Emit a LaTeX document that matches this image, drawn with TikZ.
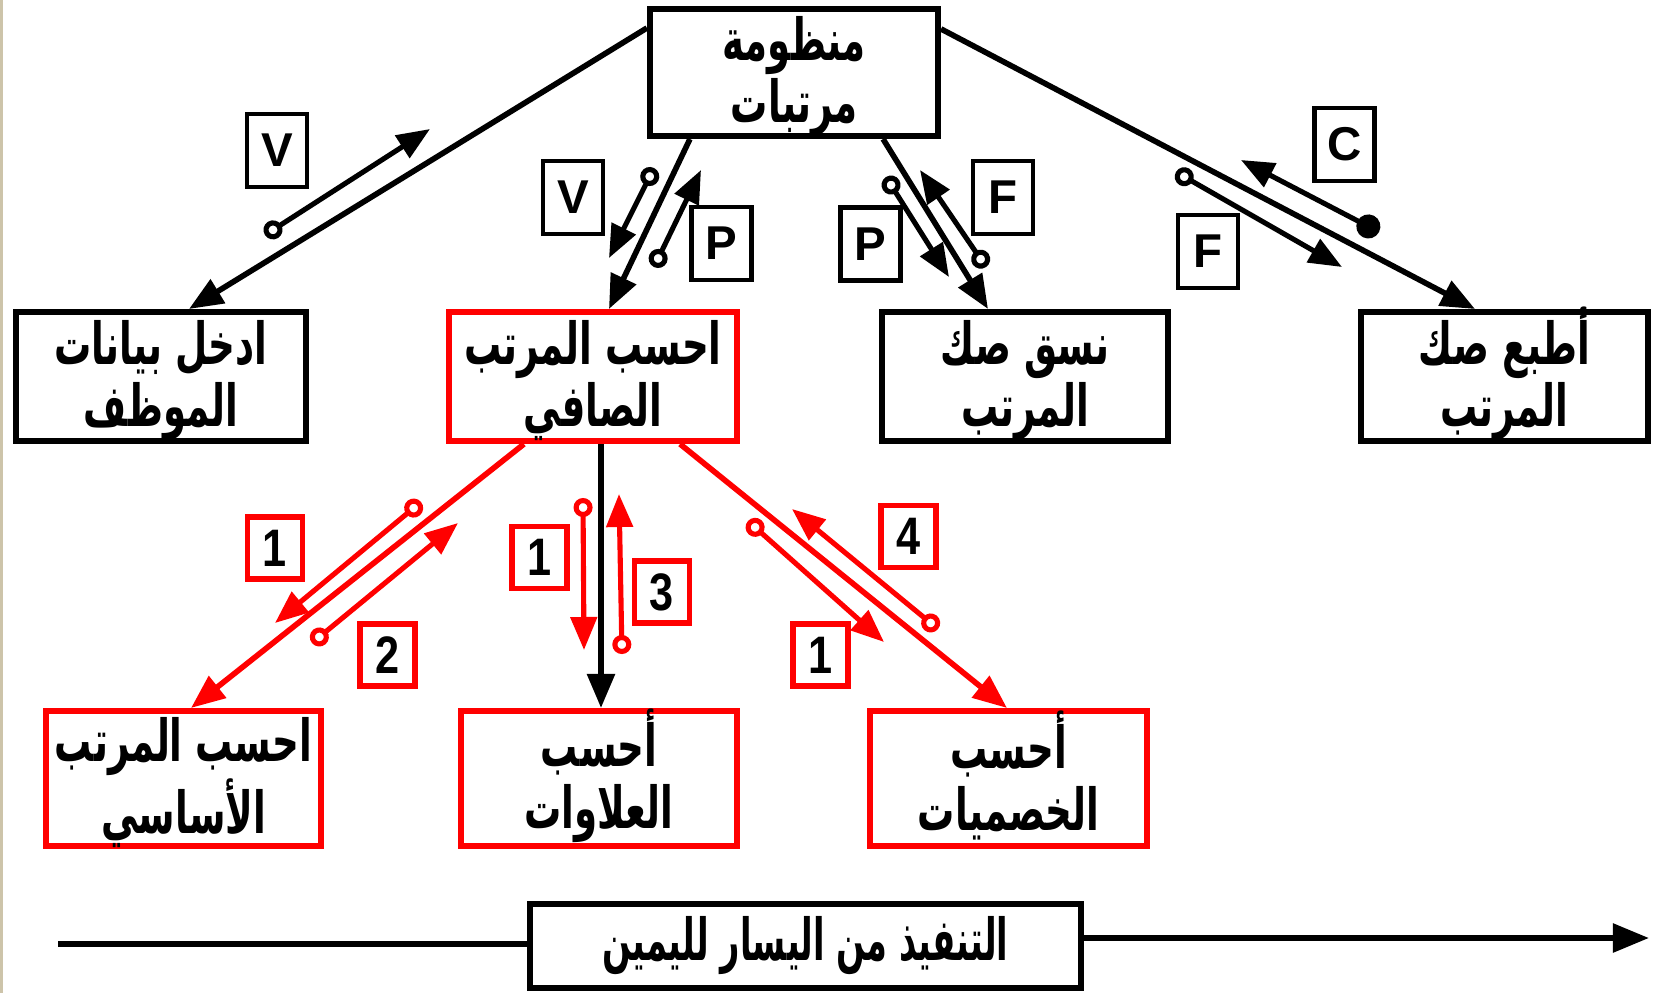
\documentclass[tikz,border=0pt]{standalone}
\usepackage{fontspec}
\setmainfont{Liberation Sans}
\newfontfamily\arabicfont[Script=Arabic, FakeStretch=0.64]{DejaVu Sans}
\newfontfamily\arabicnarrow[Script=Arabic, FakeStretch=0.58]{DejaVu Sans}
\newfontfamily\digitfont[FakeStretch=0.82]{Liberation Sans}
\TeXXeTstate=1
\usetikzlibrary{arrows.meta,calc}
\definecolor{edgestrip}{RGB}{205,196,170}
% keeps a hamza from making its line taller than a plain alef line
\newcommand\flatline[1]{\smash{#1}\vphantom{\beginR احسب\endR}}

\begin{document}
\begin{tikzpicture}[x=0.01cm, y=-0.01cm,
  box/.style={draw=black, line width=1.7pt, fill=white, inner sep=0pt,
    minimum height=1.29cm},
  redbox/.style={box, draw=red},
  txt/.style={align=center, inner sep=0pt, yshift=-0.04cm,
    font=\arabicfont\bfseries\fontsize{16.5}{17.6}\selectfont},
  tag/.style={draw=black, line width=1.3pt, inner sep=0pt,
    minimum width=0.60cm, minimum height=0.73cm,
    font=\bfseries\fontsize{13.5}{13.5}\selectfont},
  redtag/.style={tag, draw=red, line width=1.5pt,
    minimum width=0.55cm, minimum height=0.62cm,
    font=\digitfont\bfseries\fontsize{15}{15}\selectfont},
  link/.style={line width=1.6pt, -{Triangle[length=3.4mm, width=2.7mm]}},
  flow/.style={line width=1.45pt,
    {Circle[open, length=1.9mm]}-{Triangle[length=3.3mm, width=2.6mm]}},
  ctrl/.style={line width=1.45pt,
    {Circle[length=2.4mm]}-{Triangle[length=3.3mm, width=2.6mm]}}]

\useasboundingbox (0,0) rectangle (1662,993);
\fill[edgestrip] (0,0) rectangle (3,993);

% modules
\node[box, minimum width=2.88cm, minimum height=1.27cm,
  label={[txt]center:{\beginR منظومة\endR\\\beginR مرتبات\endR}}] (sys) at (794,72.5) {};
\node[box, minimum width=2.90cm,
  label={[txt]center:{\beginR ادخل بيانات\endR\\\beginR الموظف\endR}}] (inp) at (161,376.5) {};
\node[redbox, minimum width=2.88cm,
  label={[txt]center:{\beginR احسب المرتب\endR\\\beginR الصافي\endR}}] (net) at (593,376.5) {};
\node[box, minimum width=2.86cm,
  label={[txt]center:{\beginR نسق صك\endR\\\beginR المرتب\endR}}] (fmt) at (1025,376.5) {};
\node[box, minimum width=2.87cm,
  label={[txt]center:{\flatline{\beginR أطبع صك\endR}\\\beginR المرتب\endR}}] (prn) at (1504.5,376.5) {};
\node[redbox, minimum width=2.75cm, minimum height=1.35cm,
  label={[txt]center:{\beginR احسب المرتب\endR\\\beginR الأساسي\endR}}] (bas) at (183.5,778.5) {};
\node[redbox, minimum width=2.76cm, minimum height=1.35cm,
  label={[txt]center:{\flatline{\beginR أحسب\endR}\\\beginR العلاوات\endR}}] (alw) at (599,778.5) {};
\node[redbox, minimum width=2.77cm, minimum height=1.35cm,
  label={[txt]center:{\flatline{\beginR أحسب\endR}\\\beginR الخصميات\endR}}] (ded) at (1008.5,778.5) {};
\node[box, minimum width=5.51cm, minimum height=0.84cm,
  font=\arabicnarrow\bfseries\fontsize{16.5}{18}\selectfont] (dir) at (805.5,946)
  {\beginR التنفيذ من اليسار لليمين\endR};

% calls
\draw[link] ($(sys.north west)+(0,22)$) -- ($(inp.north)+(28,0)$);
\draw[link] ($(sys.south west)+(43,0)$) -- ($(net.north)+(16,0)$);
\draw[link] ($(sys.south east)+(-58,0)$) -- ($(fmt.north)+(-37,0)$);
\draw[link] ($(sys.north east)+(0,23)$) -- ($(prn.north)+(-29.5,0)$);
\draw[link, red] ($(net.south west)+(78,0)$) -- ($(bas.north)+(7.5,0)$);
\draw[link] ($(net.south)+(8,0)$) -- ($(alw.north)+(2,0)$);
\draw[link, red] ($(net.south east)+(-60,0)$) -- ($(ded.north)+(-1.5,0)$);

% data and control couples
\coordinate (v1a) at (265,235);  \coordinate (v1b) at (430,129);
\coordinate (v2a) at (654,168);  \coordinate (v2b) at (609,258);
\coordinate (p1a) at (654,267);  \coordinate (p1b) at (701,170);
\coordinate (p2a) at (886,177);  \coordinate (p2b) at (949,277);
\coordinate (f1a) at (986,267);  \coordinate (f1b) at (920,170);
\coordinate (f2a) at (1176,172); \coordinate (f2b) at (1342,267);
\coordinate (c1a) at (1379,232); \coordinate (c1b) at (1241,160);
\coordinate (r1a) at (421,502);  \coordinate (r1b) at (275,623);
\coordinate (r2a) at (312,643);  \coordinate (r2b) at (458,523);
\coordinate (r3a) at (583,498);  \coordinate (r3b) at (584,650);
\coordinate (r4a) at (622,654);  \coordinate (r4b) at (619,494);
\coordinate (r5a) at (748,521);  \coordinate (r5b) at (884,642);
\coordinate (r6a) at (938,629);  \coordinate (r6b) at (792,509);

\draw[flow] (v1a) -- (v1b);
\draw[flow] (v2a) -- (v2b);
\draw[flow] (p1a) -- (p1b);
\draw[flow] (p2a) -- (p2b);
\draw[flow] (f1a) -- (f1b);
\draw[flow] (f2a) -- (f2b);
\draw[ctrl] (c1a) -- (c1b);
\draw[flow, red] (r1a) -- (r1b);
\draw[flow, red] (r2a) -- (r2b);
\draw[flow, red] (r3a) -- (r3b);
\draw[flow, red] (r4a) -- (r4b);
\draw[flow, red] (r5a) -- (r5b);
\draw[flow, red] (r6a) -- (r6b);

% couple labels
\node[tag] (tv1) at (277,150.5) {V};
\node[tag] (tv2) at (573,197.5) {V};
\node[tag] (tp1) at (721.5,243.5) {P};
\node[tag] (tp2) at (870.5,244) {P};
\node[tag] (tf1) at (1003,197.5) {F};
\node[tag] (tf2) at (1208,251.5) {F};
\node[tag] (tc1) at (1344.5,144.5) {C};
\node[redtag] (tn1) at (275,548) {1};
\node[redtag] (tn2) at (387.5,655) {2};
\node[redtag] (tn3) at (539.5,557.5) {1};
\node[redtag] (tn4) at (662,592) {3};
\node[redtag] (tn5) at (908.5,536.5) {4};
\node[redtag] (tn6) at (820.5,655) {1};

% execution order
\coordinate (tl) at (58,944);
\coordinate (tr) at (1649,938);
\draw[line width=1.6pt] (tl) -- (tl -| dir.west);
\draw[line width=1.6pt, -{Triangle[length=3.6mm, width=2.8mm]}] (tr -| dir.east) -- (tr);
\end{tikzpicture}
\end{document}
